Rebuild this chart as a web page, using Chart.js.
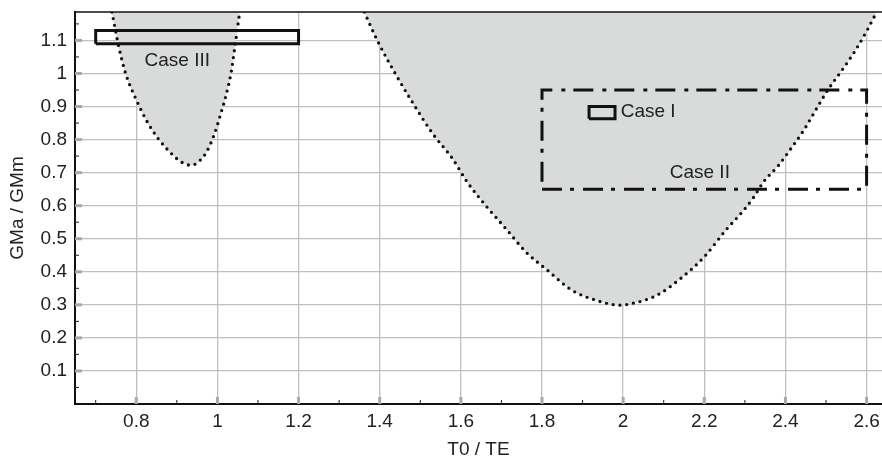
<!DOCTYPE html>
<html>
<head>
<meta charset="utf-8">
<script src="https://cdn.jsdelivr.net/npm/chart.js@4.4.1/dist/chart.umd.min.js"></script>
<style>
  body { margin: 0; background: #fff; }
  #wrap { width: 882px; height: 458px; }
</style>
</head>
<body>
<div id="wrap"><canvas id="chart" width="882" height="458"></canvas></div>
<script>
// =====================================
// DATA
// =====================================
const xMajorTicks = [0.8, 1, 1.2, 1.4, 1.6, 1.8, 2, 2.2, 2.4, 2.6];
const xMinorTicks = [0.7, 0.9, 1.1, 1.3, 1.5, 1.7, 1.9, 2.1, 2.3, 2.5];
const yMajorTicks = [0.1, 0.2, 0.3, 0.4, 0.5, 0.6, 0.7, 0.8, 0.9, 1, 1.1];
const yMinorTicks = [0.05, 0.15, 0.25, 0.35, 0.45, 0.55, 0.65, 0.75, 0.85, 0.95, 1.05, 1.15];

// left unstable region boundary
const regionAx = [0.740, 0.757, 0.774, 0.801, 0.825, 0.854, 0.887, 0.911, 0.936, 0.957, 0.973, 0.993, 1.007, 1.020, 1.034, 1.043, 1.055];
const regionAy = [1.186, 1.080, 0.999, 0.918, 0.858, 0.803, 0.757, 0.732, 0.722, 0.737, 0.762, 0.818, 0.873, 0.928, 1.004, 1.080, 1.186];

// right unstable region boundary
const regionBx = [1.362, 1.394, 1.441, 1.478, 1.530, 1.579, 1.616, 1.665, 1.714, 1.761, 1.813, 1.874, 1.933, 1.990, 2.014, 2.083, 2.142, 2.199, 2.253, 2.297, 2.322, 2.346, 2.383, 2.416, 2.445, 2.474, 2.505, 2.539, 2.572, 2.601, 2.625];
const regionBy = [1.186, 1.100, 0.994, 0.918, 0.819, 0.743, 0.671, 0.595, 0.526, 0.459, 0.405, 0.344, 0.314, 0.299, 0.302, 0.329, 0.380, 0.444, 0.526, 0.586, 0.626, 0.672, 0.722, 0.777, 0.828, 0.888, 0.951, 1.009, 1.069, 1.130, 1.186];

// case boxes: [xmin, xmax, ymin, ymax]
const case1Box = [1.916, 1.980, 0.863, 0.900];
const case2Box = [1.8, 2.6, 0.65, 0.95];
const case3Box = [0.70, 1.20, 1.09, 1.13];

const caseLabels = ["Case I", "Case II", "Case III"];
const caseLabelX = [1.994, 2.189, 0.901];
const caseLabelY = [0.885, 0.701, 1.039];
const caseLabelAlign = ["left", "center", "center"];

const X_MIN = 0.649, X_MAX = 2.638;
const Y_MIN = 0, Y_MAX = 1.186;

// =====================================
// HELPERS
// =====================================
function toPoints(xs, ys) {
    return xs.map((x, i) => ({ x: x, y: ys[i] }));
}

function boxPoints(b) {
    return [
        { x: b[0], y: b[2] }, { x: b[1], y: b[2] },
        { x: b[1], y: b[3] }, { x: b[0], y: b[3] },
        { x: b[0], y: b[2] }
    ];
}

function isIn(v, list) {
    return list.some(t => Math.abs(t - v) < 1e-6);
}

function fmt(v) {
    return String(parseFloat(v.toFixed(2)));
}

const FONT = "'Liberation Sans', Arial, Helvetica, sans-serif";
const FONT_SIZE = 19;

// =====================================
// PLUGIN: frame, inner ticks, case labels
// =====================================
const extrasPlugin = {
    id: "extras",
    afterDraw(chart) {
        const ctx = chart.ctx;
        const area = chart.chartArea;
        const xs = chart.scales.x;
        const ys = chart.scales.y;

        ctx.save();
        // top frame line
        ctx.strokeStyle = "#111";
        ctx.lineWidth = 1.5;
        ctx.beginPath();
        ctx.moveTo(area.left, area.top);
        ctx.lineTo(area.right, area.top);
        ctx.stroke();

        // inward tick marks
        xMajorTicks.forEach(v => {
            const px = xs.getPixelForValue(v);
            ctx.strokeStyle = "#a8a8a8"; ctx.lineWidth = 3;
            ctx.beginPath(); ctx.moveTo(px, area.bottom); ctx.lineTo(px, area.bottom - 7); ctx.stroke();
        });
        xMinorTicks.forEach(v => {
            const px = xs.getPixelForValue(v);
            ctx.strokeStyle = "#222"; ctx.lineWidth = 1;
            ctx.beginPath(); ctx.moveTo(px, area.bottom); ctx.lineTo(px, area.bottom - 4); ctx.stroke();
        });
        yMajorTicks.forEach(v => {
            const py = ys.getPixelForValue(v);
            ctx.strokeStyle = "#a8a8a8"; ctx.lineWidth = 3;
            ctx.beginPath(); ctx.moveTo(area.left, py); ctx.lineTo(area.left + 7, py); ctx.stroke();
        });
        yMinorTicks.forEach(v => {
            const py = ys.getPixelForValue(v);
            ctx.strokeStyle = "#222"; ctx.lineWidth = 1;
            ctx.beginPath(); ctx.moveTo(area.left, py); ctx.lineTo(area.left + 4, py); ctx.stroke();
        });

        // case labels
        ctx.fillStyle = "#222";
        ctx.font = FONT_SIZE + "px " + FONT;
        ctx.textBaseline = "middle";
        caseLabels.forEach((txt, i) => {
            ctx.textAlign = caseLabelAlign[i];
            ctx.fillText(txt, xs.getPixelForValue(caseLabelX[i]), ys.getPixelForValue(caseLabelY[i]));
        });
        ctx.restore();
    }
};

// =====================================
// CHART
// =====================================
const regionStyle = {
    type: "line",
    order: 2,
    fill: "end",
    backgroundColor: "#d9dada",
    borderColor: "#111",
    borderWidth: 3.3,
    borderDash: [0, 6.8],
    borderCapStyle: "round",
    pointRadius: 0,
    cubicInterpolationMode: "monotone"
};

const boxStyle = {
    type: "line",
    order: 1,
    fill: false,
    borderColor: "#111",
    borderWidth: 3,
    borderJoinStyle: "miter",
    pointRadius: 0,
    tension: 0
};

new Chart(document.getElementById("chart"), {
    type: "line",
    data: {
        datasets: [
            Object.assign({ label: "regionA", data: toPoints(regionAx, regionAy) }, regionStyle),
            Object.assign({ label: "regionB", data: toPoints(regionBx, regionBy) }, regionStyle),
            Object.assign({ label: "Case III", data: boxPoints(case3Box) }, boxStyle),
            Object.assign({ label: "Case II", data: boxPoints(case2Box) }, boxStyle, { borderDash: [20, 8, 4, 9], borderCapStyle: "butt" }),
            Object.assign({ label: "Case I", data: boxPoints(case1Box) }, boxStyle)
        ]
    },
    options: {
        responsive: false,
        animation: false,
        devicePixelRatio: 1,
        layout: { padding: { top: 12, right: 0, left: 0, bottom: 0 } },
        plugins: {
            legend: { display: false },
            tooltip: { enabled: false }
        },
        scales: {
            x: {
                type: "linear",
                min: X_MIN,
                max: X_MAX,
                afterBuildTicks: s => { s.ticks = xMajorTicks.concat(xMinorTicks).sort((a, b) => a - b).map(v => ({ value: v })); },
                afterFit: s => { s.height = 54; s.paddingLeft = 0; s.paddingRight = 0; },
                ticks: {
                    autoSkip: false,
                    maxRotation: 0,
                    padding: 6,
                    color: "#222",
                    font: { family: FONT, size: FONT_SIZE },
                    callback: v => isIn(v, xMajorTicks) ? fmt(v) : ""
                },
                grid: {
                    drawTicks: false,
                    lineWidth: 1.3,
                    color: c => (c.tick && isIn(c.tick.value, xMajorTicks)) ? "#c0c0c0" : "rgba(0,0,0,0)"
                },
                border: { display: true, color: "#111", width: 2 },
                title: {
                    display: true,
                    text: "T0 / TE",
                    color: "#222",
                    font: { family: FONT, size: FONT_SIZE },
                    padding: { top: 4, bottom: -3 }
                }
            },
            y: {
                type: "linear",
                min: Y_MIN,
                max: Y_MAX,
                afterBuildTicks: s => { s.ticks = yMajorTicks.concat(yMinorTicks).sort((a, b) => a - b).map(v => ({ value: v })); },
                afterFit: s => { s.width = 75; s.paddingTop = 0; s.paddingBottom = 0; },
                ticks: {
                    autoSkip: false,
                    padding: 8,
                    color: "#222",
                    font: { family: FONT, size: FONT_SIZE },
                    callback: v => isIn(v, yMajorTicks) ? fmt(v) : ""
                },
                grid: {
                    drawTicks: false,
                    lineWidth: 1.3,
                    color: c => (c.tick && isIn(c.tick.value, yMajorTicks)) ? "#c0c0c0" : "rgba(0,0,0,0)"
                },
                border: { display: true, color: "#111", width: 2 },
                title: {
                    display: true,
                    text: "GMa / GMm",
                    color: "#222",
                    font: { family: FONT, size: FONT_SIZE },
                    padding: { top: 6, bottom: 0 }
                }
            }
        }
    },
    plugins: [extrasPlugin]
});
</script>
</body>
</html>
